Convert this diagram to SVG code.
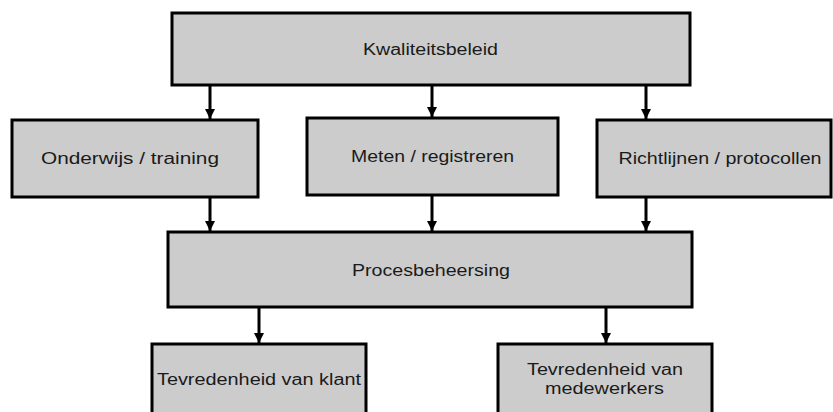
<svg xmlns="http://www.w3.org/2000/svg" width="833" height="412" viewBox="0 0 833 412">
  <style>
    .box { fill: #cccccc; stroke: #000000; stroke-width: 3; }
    .lbl { font-family: "Liberation Sans", Arial, sans-serif; font-size: 16px; fill: #1a1a1a; text-anchor: middle; }
    .conn { stroke: #000000; stroke-width: 3; fill: none; marker-end: url(#head); }
  </style>
  <defs>
    <marker id="head" viewBox="0 0 12 10" refX="10" refY="5" markerUnits="userSpaceOnUse" markerWidth="12" markerHeight="10" orient="auto">
      <path d="M0,0 L10,5 L0,10 Z" transform="translate(0,0)" fill="#000000"/>
    </marker>
  </defs>
  <rect width="833" height="412" fill="#ffffff"/>

  <g id="connectors">
    <line class="conn" x1="210" y1="86" x2="210" y2="119"/>
    <line class="conn" x1="432" y1="86" x2="432" y2="117"/>
    <line class="conn" x1="646" y1="86" x2="646" y2="119"/>
    <line class="conn" x1="210" y1="198" x2="210" y2="231"/>
    <line class="conn" x1="432" y1="196" x2="432" y2="231"/>
    <line class="conn" x1="646" y1="198" x2="646" y2="231"/>
    <line class="conn" x1="259" y1="308" x2="259" y2="343"/>
    <line class="conn" x1="606" y1="308" x2="606" y2="343"/>
  </g>

  <g id="kwaliteitsbeleid">
    <rect class="box" x="172" y="13" width="518" height="72"/>
    <text class="lbl" x="430.5" y="55" textLength="135" lengthAdjust="spacingAndGlyphs">Kwaliteitsbeleid</text>
  </g>
  <g id="onderwijs">
    <rect class="box" x="12" y="120" width="246" height="77"/>
    <text class="lbl" x="130" y="164" textLength="178" lengthAdjust="spacingAndGlyphs">Onderwijs / training</text>
  </g>
  <g id="meten">
    <rect class="box" x="307" y="118" width="251" height="77"/>
    <text class="lbl" x="432.5" y="162" textLength="163" lengthAdjust="spacingAndGlyphs">Meten / registreren</text>
  </g>
  <g id="richtlijnen">
    <rect class="box" x="597" y="120" width="234" height="77"/>
    <text class="lbl" x="720" y="164" textLength="203" lengthAdjust="spacingAndGlyphs">Richtlijnen / protocollen</text>
  </g>
  <g id="procesbeheersing">
    <rect class="box" x="168" y="232" width="524" height="75"/>
    <text class="lbl" x="431" y="276" textLength="158" lengthAdjust="spacingAndGlyphs">Procesbeheersing</text>
  </g>
  <g id="klant">
    <rect class="box" x="152" y="344" width="214" height="80"/>
    <text class="lbl" x="259" y="385" textLength="204" lengthAdjust="spacingAndGlyphs">Tevredenheid van klant</text>
  </g>
  <g id="medewerkers">
    <rect class="box" x="498" y="344" width="214" height="80"/>
    <text class="lbl" x="605" y="375" textLength="156" lengthAdjust="spacingAndGlyphs">Tevredenheid van</text>
    <text class="lbl" x="604.5" y="394" textLength="119" lengthAdjust="spacingAndGlyphs">medewerkers</text>
  </g>
</svg>
